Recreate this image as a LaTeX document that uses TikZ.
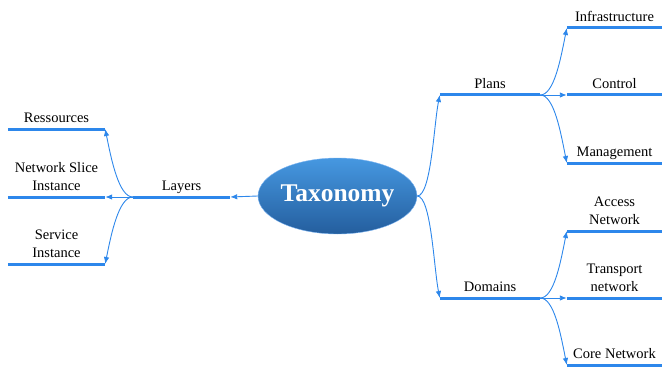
\documentclass[tikz,border=0pt]{standalone}
\usepackage{fontspec}
\setmainfont{Liberation Serif}
\usetikzlibrary{arrows.meta, positioning, shapes.geometric}
\definecolor{branch}{RGB}{45,135,235}
\definecolor{taxtop}{RGB}{70,152,225}
\definecolor{taxbottom}{RGB}{36,94,158}

\begin{document}
\begin{tikzpicture}[x=1pt, y=-1pt]

\tikzstyle{topic} = [anchor=south, minimum width=97pt, inner xsep=0pt, inner ysep=0.5pt, align=center, font=\fontsize{14.5}{18}\selectfont, execute at end node=\strut]
\tikzstyle{bar} = [branch, line width=3pt]
\tikzstyle{link} = [branch, line width=0.9pt, -{Latex[length=7pt, width=5.5pt]}]

\useasboundingbox (0,0) rectangle (662,369);

\node[ellipse, minimum width=159pt, minimum height=76pt, inner sep=0pt, top color=taxtop, bottom color=taxbottom, draw=branch!60,
  label={[text=white, font=\fontsize{25.5}{30}\selectfont\bfseries]center:Taxonomy}] (taxonomy) at (337.5,196) {};

% left side
\node[topic] (layers) at (181.5,197) {Layers};
\node[topic] (ress) at (56.5,129) {Ressources};
\node[topic] (nsi) at (56.5,197) {Network Slice\\Instance};
\node[topic] (service) at (56.5,264) {Service\\Instance};

% right side
\node[topic, minimum width=100pt] (plans) at (490,95) {Plans};
\node[topic, minimum width=100pt] (domains) at (490,298) {Domains};
\node[topic, minimum width=95pt] (infra) at (614.5,28) {Infrastructure};
\node[topic, minimum width=95pt] (control) at (614.5,95) {Control};
\node[topic, minimum width=95pt] (mgmt) at (614.5,163) {Management};
\node[topic, minimum width=95pt] (access) at (614.5,231) {Access\\Network};
\node[topic, minimum width=95pt] (transport) at (614.5,298) {Transport\\network};
\node[topic, minimum width=95pt] (core) at (614.5,365) {Core Network};

\foreach \n in {layers, ress, nsi, service, plans, domains, infra, control, mgmt, access, transport, core}
  \draw[bar] (\n.south west) -- (\n.south east);

\draw[link] (taxonomy.west) -- (layers.south east);
\draw[link] (layers.south west) .. controls +(-14,0) and +(6,30) .. (ress.south east);
\draw[link] (layers.south west) -- (nsi.south east);
\draw[link] (layers.south west) .. controls +(-14,0) and +(6,-30) .. (service.south east);

\draw[link] (taxonomy.east) .. controls +(14,0) and +(-6,30) .. (plans.south west);
\draw[link] (taxonomy.east) .. controls +(14,0) and +(-6,-30) .. (domains.south west);

\draw[link] (plans.south east) .. controls +(14,0) and +(-6,30) .. (infra.south west);
\draw[link] (plans.south east) -- (control.south west);
\draw[link] (plans.south east) .. controls +(14,0) and +(-6,-30) .. (mgmt.south west);
\draw[link] (domains.south east) .. controls +(14,0) and +(-6,30) .. (access.south west);
\draw[link] (domains.south east) -- (transport.south west);
\draw[link] (domains.south east) .. controls +(14,0) and +(-6,-30) .. (core.south west);

\end{tikzpicture}
\end{document}
